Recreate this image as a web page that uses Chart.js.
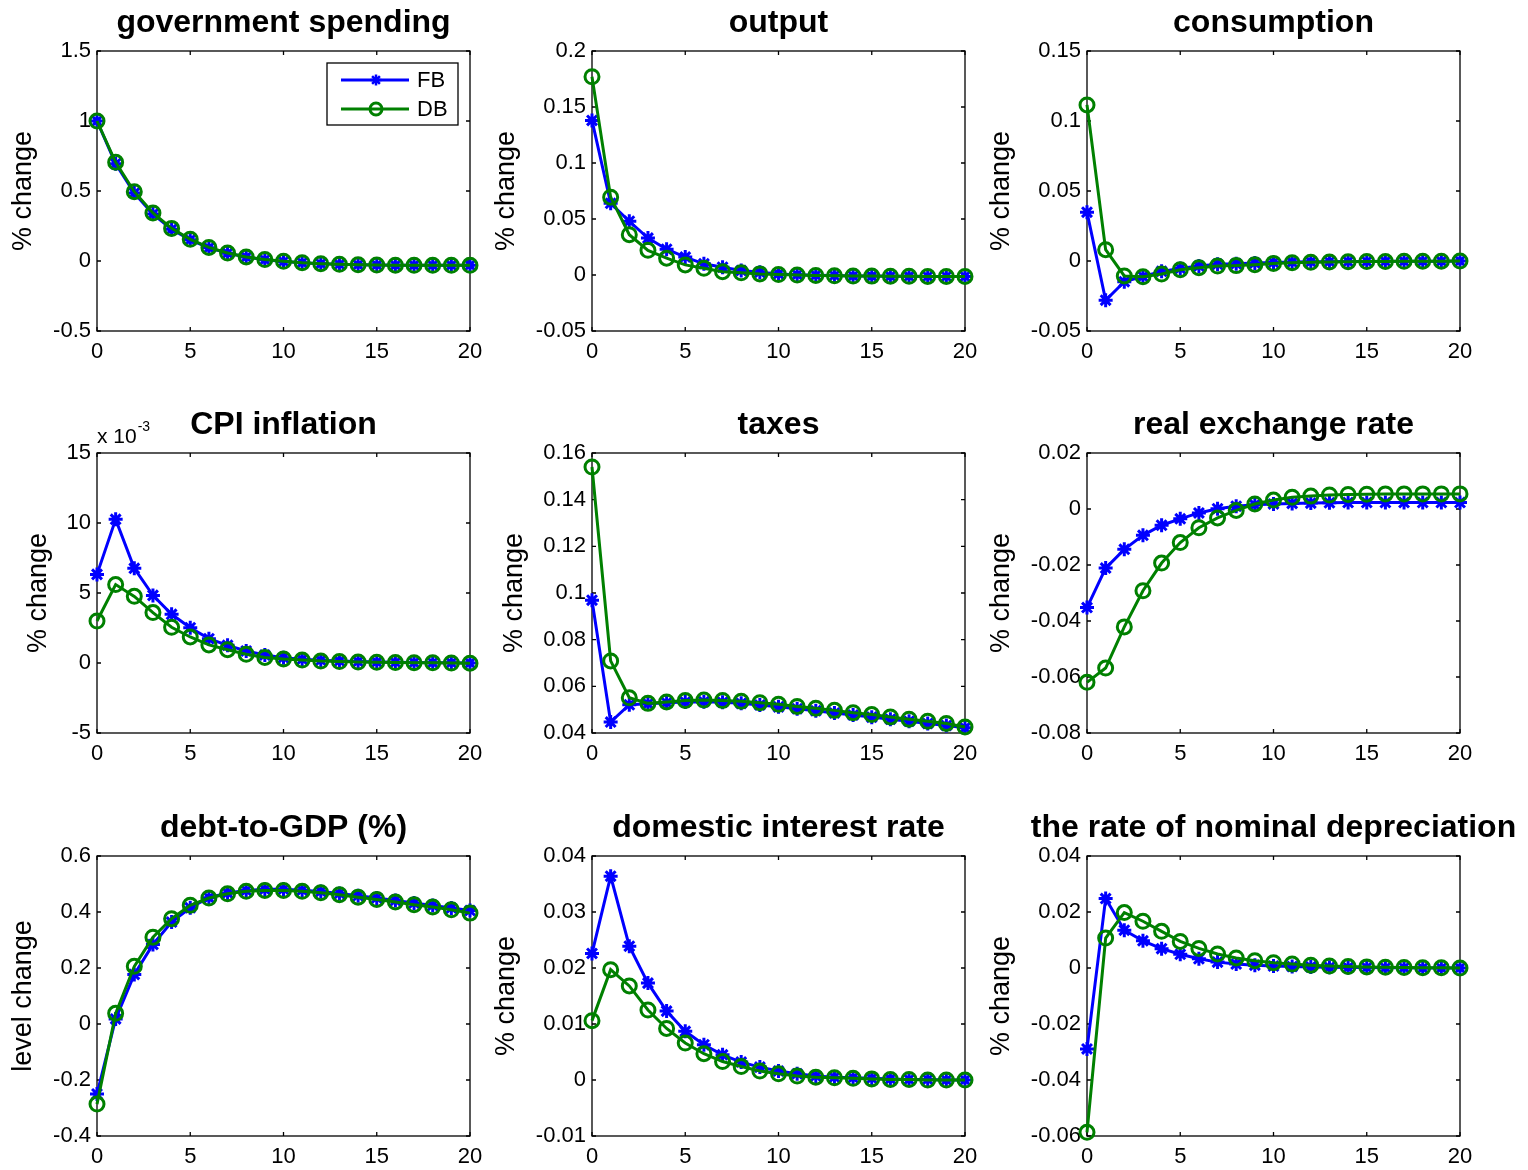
<!DOCTYPE html>
<html>
<head>
<meta charset="utf-8">
<script src="https://cdn.jsdelivr.net/npm/chart.js@4/dist/chart.umd.min.js"></script>
<style>
  body { margin: 0; background: #fff; width: 1528px; height: 1170px; position: relative; overflow: hidden; }
  canvas { position: absolute; }
</style>
</head>
<body>
<script>
// horizon (quarters) and series names
const steps = [0, 1, 2, 3, 4, 5, 6, 7, 8, 9, 10, 11, 12, 13, 14, 15, 16, 17, 18, 19, 20];
const seriesNames = ["FB", "DB"];
const xTicks = [0, 5, 10, 15, 20];

// government spending
const govFB = [1, 0.695, 0.485, 0.335, 0.226, 0.151, 0.094, 0.056, 0.028, 0.009, -0.003, -0.012, -0.019, -0.024, -0.027, -0.029, -0.030, -0.030, -0.030, -0.030, -0.030];
const govDB = [1, 0.705, 0.495, 0.343, 0.233, 0.155, 0.097, 0.057, 0.029, 0.010, -0.002, -0.012, -0.019, -0.024, -0.027, -0.029, -0.030, -0.031, -0.031, -0.031, -0.031];
const govTicks = [-0.5, 0, 0.5, 1, 1.5];

// output
const outFB = [0.138, 0.064, 0.048, 0.033, 0.023, 0.016, 0.010, 0.007, 0.004, 0.0024, 0.001, 0.0003, -0.0002, -0.0005, -0.0008, -0.001, -0.0011, -0.0012, -0.0013, -0.0013, -0.0013];
const outDB = [0.177, 0.0695, 0.036, 0.022, 0.015, 0.009, 0.006, 0.003, 0.002, 0.001, 0.0004, 0, -0.0004, -0.0007, -0.0009, -0.001, -0.0011, -0.0012, -0.0013, -0.0013, -0.0013];
const outTicks = [-0.05, 0, 0.05, 0.1, 0.15, 0.2];

// consumption
const consFB = [0.0349, -0.028, -0.0148, -0.011, -0.0074, -0.0053, -0.0036, -0.0024, -0.0019, -0.0014, -0.0011, -0.0008, -0.0006, -0.0005, -0.0004, -0.0003, -0.0002, -0.0002, -0.0001, -0.0001, 0];
const consDB = [0.1115, 0.0081, -0.0107, -0.0112, -0.0093, -0.0062, -0.0048, -0.0036, -0.0033, -0.0026, -0.0017, -0.0012, -0.0009, -0.0007, -0.0005, -0.0004, -0.0003, -0.0002, -0.0001, -0.0001, 0];
const consTicks = [-0.05, 0, 0.05, 0.1, 0.15];

// CPI inflation (x 10^-3)
const cpiFB = [6.33, 10.26, 6.76, 4.83, 3.48, 2.52, 1.74, 1.26, 0.86, 0.57, 0.38, 0.26, 0.19, 0.14, 0.10, 0.07, 0.05, 0.03, 0.02, 0.01, 0.0];
const cpiDB = [3.0, 5.6, 4.76, 3.6, 2.55, 1.86, 1.29, 0.95, 0.62, 0.40, 0.29, 0.21, 0.14, 0.10, 0.07, 0.05, 0.03, 0.02, 0.01, 0.0, -0.01];
const cpiTicks = [-5, 0, 5, 10, 15];

// taxes
const taxFB = [0.0969, 0.0447, 0.0521, 0.0525, 0.053, 0.0533, 0.0534, 0.0532, 0.0527, 0.052, 0.0512, 0.0504, 0.0495, 0.0486, 0.0477, 0.0468, 0.0459, 0.045, 0.0441, 0.0432, 0.0422];
const taxDB = [0.154, 0.0709, 0.0551, 0.0527, 0.0533, 0.0539, 0.0541, 0.0539, 0.0536, 0.053, 0.0523, 0.0514, 0.0506, 0.0497, 0.0487, 0.0479, 0.0469, 0.0459, 0.045, 0.0441, 0.0426];
const taxTicks = [0.04, 0.06, 0.08, 0.1, 0.12, 0.14, 0.16];

// real exchange rate
const rerFB = [-0.0352, -0.0211, -0.0144, -0.0094, -0.0058, -0.0035, -0.0014, 0.0001, 0.001, 0.0015, 0.0018, 0.002, 0.0021, 0.0022, 0.0023, 0.0023, 0.0023, 0.0023, 0.0023, 0.0023, 0.0023];
const rerDB = [-0.0619, -0.0568, -0.0421, -0.0292, -0.0193, -0.012, -0.0067, -0.0032, -0.0005, 0.0018, 0.0032, 0.0042, 0.0046, 0.005, 0.0052, 0.0053, 0.0054, 0.0054, 0.0054, 0.0054, 0.0054];
const rerTicks = [-0.08, -0.06, -0.04, -0.02, 0, 0.02];

// debt-to-GDP
const debtFB = [-0.25, 0.018, 0.177, 0.284, 0.364, 0.415, 0.451, 0.468, 0.477, 0.481, 0.481, 0.478, 0.473, 0.466, 0.458, 0.45, 0.441, 0.432, 0.423, 0.414, 0.405];
const debtDB = [-0.286, 0.038, 0.206, 0.31, 0.376, 0.424, 0.45, 0.465, 0.474, 0.477, 0.477, 0.474, 0.469, 0.462, 0.453, 0.445, 0.436, 0.426, 0.418, 0.408, 0.396];
const debtTicks = [-0.4, -0.2, 0, 0.2, 0.4, 0.6];

// domestic interest rate
const intFB = [0.0226, 0.0364, 0.0239, 0.0173, 0.0123, 0.0087, 0.0063, 0.0045, 0.0032, 0.0023, 0.0016, 0.0011, 0.0007, 0.0005, 0.0004, 0.0003, 0.0002, 0.0001, 0.0001, 0, 0];
const intDB = [0.0106, 0.0197, 0.0168, 0.0125, 0.0092, 0.0066, 0.0047, 0.0033, 0.0024, 0.0016, 0.0011, 0.0007, 0.0005, 0.0004, 0.0003, 0.0002, 0.0001, 0.0001, 0, 0, 0];
const intTicks = [-0.01, 0, 0.01, 0.02, 0.03, 0.04];

// rate of nominal depreciation
const depFB = [-0.0289, 0.0248, 0.0135, 0.0097, 0.0069, 0.0049, 0.0033, 0.0021, 0.0014, 0.001, 0.0007, 0.0005, 0.0004, 0.0003, 0.0002, 0.0002, 0.0001, 0.0001, 0, 0, 0];
const depDB = [-0.0587, 0.0107, 0.0198, 0.0167, 0.0131, 0.0095, 0.007, 0.005, 0.0036, 0.0026, 0.0019, 0.0014, 0.001, 0.0007, 0.0005, 0.0004, 0.0003, 0.0002, 0.0001, 0.0001, 0];
const depTicks = [-0.06, -0.04, -0.02, 0, 0.02, 0.04];

const panels = [
  { title: "government spending", yLabel: "% change", fb: govFB, db: govDB, yTicks: govTicks },
  { title: "output", yLabel: "% change", fb: outFB, db: outDB, yTicks: outTicks },
  { title: "consumption", yLabel: "% change", fb: consFB, db: consDB, yTicks: consTicks },
  { title: "CPI inflation", yLabel: "% change", fb: cpiFB, db: cpiDB, yTicks: cpiTicks, exponent: "-3" },
  { title: "taxes", yLabel: "% change", fb: taxFB, db: taxDB, yTicks: taxTicks },
  { title: "real exchange rate", yLabel: "% change", fb: rerFB, db: rerDB, yTicks: rerTicks },
  { title: "debt-to-GDP (%)", yLabel: "level change", fb: debtFB, db: debtDB, yTicks: debtTicks },
  { title: "domestic interest rate", yLabel: "% change", fb: intFB, db: intDB, yTicks: intTicks },
  { title: "the rate of nominal depreciation", yLabel: "% change", fb: depFB, db: depDB, yTicks: depTicks }
];

// layout of the 3x3 grid (plot-area corners, in page pixels)
const FONT = '"Liberation Sans", Arial, Helvetica, sans-serif';
const BLUE = "#0000ff", GREEN = "#008000";
const plotLeft = [97, 592, 1087];
const plotTop = [51, 453, 856];
const W = 373, H = 280;
const M = 110, T = 55, B = 45;
const labelOffset = [73, 85, 85, 58, 77, 85, 73, 85, 85];

function drawMarker(ctx, style, x, y, r) {
  ctx.beginPath();
  if (style === "star") {
    const d = r * Math.SQRT1_2;
    ctx.moveTo(x - r, y); ctx.lineTo(x + r, y);
    ctx.moveTo(x, y - r); ctx.lineTo(x, y + r);
    ctx.moveTo(x - d, y - d); ctx.lineTo(x + d, y + d);
    ctx.moveTo(x - d, y + d); ctx.lineTo(x + d, y - d);
  } else {
    ctx.arc(x, y, r, 0, Math.PI * 2);
  }
  ctx.stroke();
}

// matlab style box with inward ticks, legend and exponent label
const axesBox = {
  id: "axesBox",
  beforeDatasetsDraw(chart) {
    const { ctx, chartArea: a, scales } = chart;
    ctx.save();
    ctx.strokeStyle = "#000";
    ctx.lineWidth = 1.3;
    ctx.strokeRect(a.left, a.top, a.width, a.height);
    ctx.beginPath();
    for (const t of scales.x.ticks) {
      const px = scales.x.getPixelForValue(t.value);
      ctx.moveTo(px, a.bottom); ctx.lineTo(px, a.bottom - 4);
      ctx.moveTo(px, a.top); ctx.lineTo(px, a.top + 4);
    }
    for (const t of scales.y.ticks) {
      const py = scales.y.getPixelForValue(t.value);
      ctx.moveTo(a.left, py); ctx.lineTo(a.left + 4, py);
      ctx.moveTo(a.right, py); ctx.lineTo(a.right - 4, py);
    }
    ctx.stroke();
    ctx.restore();
  },
  afterDraw(chart, args, opts) {
    const { ctx, chartArea: a } = chart;
    ctx.save();
    if (opts.exponent) {
      ctx.fillStyle = "#000";
      ctx.textBaseline = "alphabetic";
      ctx.font = "21px " + FONT;
      ctx.fillText("x 10", a.left, a.top - 10);
      const w = ctx.measureText("x 10").width;
      ctx.font = "14px " + FONT;
      ctx.fillText(opts.exponent, a.left + w + 1, a.top - 22);
    }
    if (opts.legend) {
      const bw = 131, bh = 62;
      const bx = a.right - 12 - bw, by = a.top + 12;
      ctx.fillStyle = "#fff";
      ctx.fillRect(bx, by, bw, bh);
      ctx.strokeStyle = "#000";
      ctx.lineWidth = 1.3;
      ctx.strokeRect(bx, by, bw, bh);
      chart.data.datasets.forEach((ds, i) => {
        const y = by + 17 + i * 29;
        ctx.strokeStyle = ds.borderColor;
        ctx.lineWidth = 3;
        ctx.beginPath();
        ctx.moveTo(bx + 14, y); ctx.lineTo(bx + 82, y);
        ctx.stroke();
        ctx.lineWidth = ds.pointStyle === "star" ? 2.5 : 3;
        drawMarker(ctx, ds.pointStyle, bx + 49, y, ds.pointStyle === "star" ? 5.5 : 6);
        ctx.fillStyle = "#000";
        ctx.font = "22px " + FONT;
        ctx.textBaseline = "middle";
        ctx.fillText(ds.label, bx + 90, y + 1);
      });
    }
    ctx.restore();
  }
};

panels.forEach((p, i) => {
  const col = i % 3, row = Math.floor(i / 3);
  const canvas = document.createElement("canvas");
  canvas.width = W + 2 * M;
  canvas.height = T + H + B;
  canvas.style.left = (plotLeft[col] - M) + "px";
  canvas.style.top = (plotTop[row] - T) + "px";
  document.body.appendChild(canvas);

  const tickFont = { family: FONT, size: 22 };
  new Chart(canvas.getContext("2d"), {
    type: "line",
    data: {
      datasets: [
        {
          label: seriesNames[0],
          data: steps.map((s, k) => ({ x: s, y: p.fb[k] })),
          borderColor: BLUE, borderWidth: 3,
          pointStyle: "star", pointRadius: 7, pointBorderWidth: 3,
          pointBorderColor: BLUE, pointBackgroundColor: BLUE,
          tension: 0, clip: false, order: 1
        },
        {
          label: seriesNames[1],
          data: steps.map((s, k) => ({ x: s, y: p.db[k] })),
          borderColor: GREEN, borderWidth: 3,
          pointStyle: "circle", pointRadius: 7, pointBorderWidth: 3,
          pointBorderColor: GREEN, pointBackgroundColor: "rgba(0,0,0,0)",
          tension: 0, clip: false, order: 0
        }
      ]
    },
    options: {
      responsive: false,
      animation: false,
      events: [],
      layout: { padding: 0 },
      plugins: {
        legend: { display: false },
        tooltip: { enabled: false },
        title: {
          display: true, text: p.title, color: "#000",
          font: { family: FONT, size: 32, weight: "bold" },
          padding: { top: 7.5, bottom: 9.1 }
        },
        axesBox: { legend: i === 0, exponent: p.exponent || "" }
      },
      scales: {
        x: {
          type: "linear", min: 0, max: 20,
          afterBuildTicks: s => { s.ticks = xTicks.map(v => ({ value: v })); },
          afterFit: s => { s.height = B; },
          grid: { display: false, drawTicks: false },
          border: { display: false },
          ticks: { color: "#000", font: tickFont, padding: 8, autoSkip: false, maxRotation: 0, callback: v => String(v) }
        },
        y: {
          type: "linear", min: p.yTicks[0], max: p.yTicks[p.yTicks.length - 1],
          afterBuildTicks: s => { s.ticks = p.yTicks.map(v => ({ value: v })); },
          afterFit: s => { s.width = M; },
          grid: { display: false, drawTicks: false },
          border: { display: false },
          ticks: { color: "#000", font: tickFont, padding: 6, autoSkip: false, callback: v => String(v) },
          title: {
            display: true, text: p.yLabel, color: "#000",
            font: { family: FONT, size: 27 },
            padding: { top: M - labelOffset[i] - 16.2, bottom: 0 }
          }
        },
        // empty right-hand margin so the title is centred over the plot box
        yRight: {
          type: "linear", position: "right", display: true,
          afterFit: s => { s.width = M; },
          grid: { display: false, drawTicks: false },
          border: { display: false },
          ticks: { display: false }
        }
      }
    },
    plugins: [axesBox]
  });
});
</script>
</body>
</html>
